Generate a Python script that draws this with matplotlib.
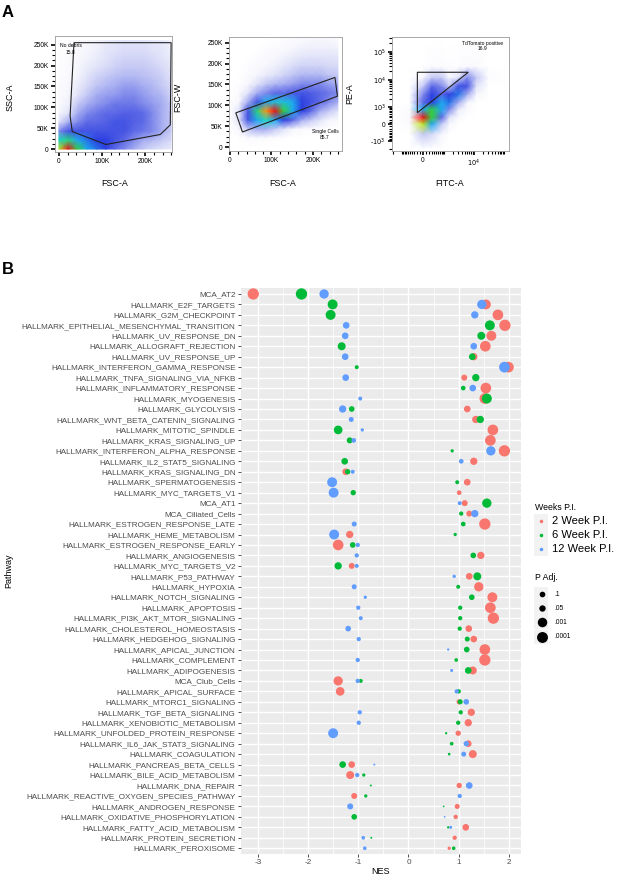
import numpy as np
import matplotlib
matplotlib.use("Agg")
import matplotlib.pyplot as plt
from matplotlib.colors import LinearSegmentedColormap
from matplotlib.patches import Polygon, Rectangle

plt.rcParams['font.family'] = ['Liberation Sans', 'DejaVu Sans']

# ---------------- Panel B data ----------------
pathways = [
    "MCA_AT2", "HALLMARK_E2F_TARGETS", "HALLMARK_G2M_CHECKPOINT",
    "HALLMARK_EPITHELIAL_MESENCHYMAL_TRANSITION", "HALLMARK_UV_RESPONSE_DN",
    "HALLMARK_ALLOGRAFT_REJECTION", "HALLMARK_UV_RESPONSE_UP",
    "HALLMARK_INTERFERON_GAMMA_RESPONSE", "HALLMARK_TNFA_SIGNALING_VIA_NFKB",
    "HALLMARK_INFLAMMATORY_RESPONSE", "HALLMARK_MYOGENESIS", "HALLMARK_GLYCOLYSIS",
    "HALLMARK_WNT_BETA_CATENIN_SIGNALING", "HALLMARK_MITOTIC_SPINDLE",
    "HALLMARK_KRAS_SIGNALING_UP", "HALLMARK_INTERFERON_ALPHA_RESPONSE",
    "HALLMARK_IL2_STAT5_SIGNALING", "HALLMARK_KRAS_SIGNALING_DN",
    "HALLMARK_SPERMATOGENESIS", "HALLMARK_MYC_TARGETS_V1", "MCA_AT1",
    "MCA_Ciliated_Cells", "HALLMARK_ESTROGEN_RESPONSE_LATE",
    "HALLMARK_HEME_METABOLISM", "HALLMARK_ESTROGEN_RESPONSE_EARLY",
    "HALLMARK_ANGIOGENESIS", "HALLMARK_MYC_TARGETS_V2", "HALLMARK_P53_PATHWAY",
    "HALLMARK_HYPOXIA", "HALLMARK_NOTCH_SIGNALING", "HALLMARK_APOPTOSIS",
    "HALLMARK_PI3K_AKT_MTOR_SIGNALING", "HALLMARK_CHOLESTEROL_HOMEOSTASIS",
    "HALLMARK_HEDGEHOG_SIGNALING", "HALLMARK_APICAL_JUNCTION",
    "HALLMARK_COMPLEMENT", "HALLMARK_ADIPOGENESIS", "MCA_Club_Cells",
    "HALLMARK_APICAL_SURFACE", "HALLMARK_MTORC1_SIGNALING",
    "HALLMARK_TGF_BETA_SIGNALING", "HALLMARK_XENOBIOTIC_METABOLISM",
    "HALLMARK_UNFOLDED_PROTEIN_RESPONSE", "HALLMARK_IL6_JAK_STAT3_SIGNALING",
    "HALLMARK_COAGULATION", "HALLMARK_PANCREAS_BETA_CELLS",
    "HALLMARK_BILE_ACID_METABOLISM", "HALLMARK_DNA_REPAIR",
    "HALLMARK_REACTIVE_OXYGEN_SPECIES_PATHWAY", "HALLMARK_ANDROGEN_RESPONSE",
    "HALLMARK_OXIDATIVE_PHOSPHORYLATION", "HALLMARK_FATTY_ACID_METABOLISM",
    "HALLMARK_PROTEIN_SECRETION", "HALLMARK_PEROXISOME",
]

nes_2wk = [-3.09, 1.54, 1.78, 1.92, 1.65, 1.53, 1.30, 1.99, 1.11, 1.54,
           1.52, 1.17, 1.34, 1.68, 1.63, 1.91, 1.30, -1.25, 1.17, 1.01,
           1.12, 1.21, 1.52, -1.17, -1.40, 1.44, -1.13, 1.21, 1.40, 1.67,
           1.63, 1.69, 1.20, 1.30, 1.52, 1.52, 1.28, -1.40, -1.36, 1.01,
           1.25, 1.19, 0.99, 1.19, 1.28, -1.13, -1.16, 1.01, -1.08, 0.97,
           0.94, 1.14, 0.92, 0.81]
padj_2wk = [5e-5, 5e-4, 1.5e-4, 5e-5, 5e-4, 1.5e-4, 0.018, 1.5e-4, 0.073, 1.5e-4,
            1.5e-4, 0.037, 0.018, 1.5e-4, 1.5e-4, 5e-5, 0.018, 0.037, 0.037, 0.22,
            0.073, 0.073, 5e-5, 0.018, 1.5e-4, 0.018, 0.073, 0.037, 1.3e-3, 5e-4,
            1.5e-4, 5e-5, 0.037, 0.037, 1.5e-4, 5e-5, 0.008, 1.3e-3, 0.0033, 0.13,
            0.018, 0.018, 0.13, 0.037, 0.008, 0.037, 0.008, 0.13, 0.073, 0.17,
            0.29, 0.037, 0.29, 0.53]

nes_6wk = [-2.13, -1.51, -1.55, 1.62, 1.45, -1.33, 1.27, -1.03, 1.34, 1.09,
           1.56, -1.13, 1.43, -1.40, -1.17, 0.87, -1.27, -1.21, 0.97, -1.10,
           1.56, 1.05, 1.09, 0.93, -1.11, 1.29, -1.40, 1.37, 0.99, 1.26,
           1.03, 1.03, 1.02, 1.17, 1.16, 0.95, 1.19, -0.95, 1.00, 1.03,
           1.04, 0.99, 0.75, 0.86, 0.81, -1.31, -0.89, -0.75, -0.85, 0.70,
           -1.08, 0.79, -0.74, 0.90]
padj_6wk = [5e-5, 5e-4, 5e-4, 5e-4, 0.008, 0.008, 0.037, 0.36, 0.018, 0.22,
            5e-4, 0.10, 0.018, 0.0033, 0.073, 0.53, 0.037, 0.13, 0.36, 0.13,
            1.3e-3, 0.29, 0.22, 0.53, 0.10, 0.10, 0.018, 0.008, 0.36, 0.10,
            0.29, 0.29, 0.29, 0.17, 0.10, 0.44, 0.037, 0.36, 0.29, 0.17,
            0.29, 0.29, 0.83, 0.44, 0.72, 0.037, 0.53, 0.93, 0.53, 1.0,
            0.10, 0.83, 0.93, 0.44]

nes_12wk = [-1.68, 1.46, 1.32, -1.24, -1.26, 1.30, -1.26, 1.91, -1.25, 1.28,
            -0.96, -1.31, -1.14, -0.92, -1.09, 1.64, 1.05, -1.11, -1.52, -1.49,
            1.02, 1.32, -1.08, -1.48, -1.01, -1.03, -1.03, 0.91, -1.08, -0.86,
            -1.00, -0.95, -1.20, -0.99, 0.79, -1.01, 0.86, -1.01, 0.96, 1.15,
            -0.97, -0.99, -1.50, 1.15, 1.10, -0.68, -1.02, 1.21, 1.02, -1.16,
            0.72, 0.84, -0.90, -0.87]
padj_12wk = [1.3e-3, 1.3e-3, 0.018, 0.037, 0.037, 0.037, 0.037, 1.5e-4, 0.037, 0.037,
             0.36, 0.018, 0.17, 0.53, 0.22, 1.3e-3, 0.22, 0.36, 5e-4, 5e-4,
             0.36, 0.018, 0.17, 5e-4, 0.29, 0.29, 0.36, 0.53, 0.17, 0.53,
             0.29, 0.36, 0.10, 0.29, 0.83, 0.29, 0.62, 0.29, 0.29, 0.10,
             0.29, 0.29, 5e-4, 0.13, 0.17, 0.93, 0.29, 0.037, 0.29, 0.073,
             1.0, 0.62, 0.44, 0.44]

week_labels = ["2 Week P.I.", "6 Week P.I.", "12 Week P.I."]
week_colors = ["#F8766D", "#00BA38", "#619CFF"]
padj_breaks = [0.1, 0.05, 0.001, 0.0001]
padj_break_labels = [".1", ".05", ".001", ".0001"]
nes_ticks = [-3, -2, -1, 0, 1, 2]

# ---------------- Panel A data (densities, 0-10) ----------------
flow1_x = np.linspace(0, 260e3, 13)
flow1_y = np.linspace(0, 260e3, 13)
flow1_density = [
    [8, 10, 7, 5, 4.5, 4, 3, 2.5, 2, 1.5, 1.2, 1, 0.8],
    [6, 6.5, 5, 4.5, 4, 4, 3.5, 3, 2.5, 2, 1.8, 1.5, 1.2],
    [2.5, 3.5, 3.5, 3.5, 3.5, 3.5, 3.5, 3.5, 3, 2.8, 2.5, 2, 1.5],
    [1, 2, 2.5, 3, 3, 3.2, 3.5, 3.5, 3.2, 3, 2.5, 2, 1.5],
    [0.5, 1, 2, 2.5, 2.8, 3, 3, 3.2, 3.2, 3, 2.5, 2, 1.5],
    [0.3, 0.7, 1.5, 2, 2.3, 2.5, 2.8, 2.8, 2.8, 2.5, 2.3, 2, 1.5],
    [0.2, 0.5, 1, 1.5, 2, 2.2, 2.3, 2.5, 2.5, 2.3, 2, 1.8, 1.3],
    [0.2, 0.4, 0.8, 1.2, 1.6, 1.8, 2, 2.2, 2.2, 2, 1.8, 1.5, 1.2],
    [0.1, 0.3, 0.6, 1, 1.3, 1.5, 1.7, 1.8, 1.8, 1.7, 1.6, 1.4, 1],
    [0.1, 0.2, 0.5, 0.8, 1, 1.2, 1.4, 1.5, 1.5, 1.5, 1.4, 1.2, 0.9],
    [0.1, 0.2, 0.4, 0.6, 0.8, 1, 1.2, 1.3, 1.3, 1.3, 1.2, 1, 0.8],
    [0.1, 0.1, 0.3, 0.5, 0.7, 0.9, 1, 1.1, 1.1, 1.1, 1, 0.9, 0.7],
    [0.1, 0.1, 0.2, 0.4, 0.6, 0.8, 0.9, 1, 1, 1, 0.9, 0.8, 0.6],
]
gate1_x = [35e3, 26e3, 31e3, 109e3, 235e3, 258e3, 260e3]
gate1_y = [255e3, 79e3, 42e3, 11e3, 35e3, 58e3, 255e3]

flow2_x = np.linspace(0, 260e3, 13)
flow2_y = np.linspace(0, 260e3, 13)
flow2_density = [
    [0] * 13,
    [0, 0, 0.3, 0.3, 0.2, 0.1, 0, 0, 0, 0, 0, 0, 0],
    [0, 0.5, 1.5, 2, 2, 1.5, 1, 0.5, 0.3, 0.2, 0.1, 0, 0],
    [0, 1, 3.5, 5, 6, 5, 4, 3, 2, 1.5, 1, 0.5, 0.3],
    [0, 1, 3.5, 6.5, 9, 10, 7, 5, 4, 3, 2, 1.5, 1],
    [0, 0.5, 2, 3.5, 5, 5.5, 5.5, 5, 4, 3.5, 3, 2.5, 2],
    [0, 0.2, 1, 2, 2.5, 3, 3, 3.3, 3.5, 3.3, 3, 2.8, 2.5],
    [0, 0.1, 0.4, 1, 1.5, 1.8, 2, 2.2, 2.5, 2.5, 2.5, 2.2, 2],
    [0, 0, 0.2, 0.5, 0.8, 1, 1.3, 1.6, 1.8, 1.8, 1.8, 1.6, 1.5],
    [0, 0, 0.1, 0.3, 0.5, 0.7, 0.9, 1.1, 1.3, 1.3, 1.3, 1.2, 1.2],
    [0, 0, 0, 0.1, 0.3, 0.4, 0.6, 0.8, 0.9, 1, 1, 1, 0.9],
    [0, 0, 0, 0, 0.1, 0.2, 0.3, 0.5, 0.6, 0.7, 0.7, 0.7, 0.6],
    [0, 0, 0, 0, 0, 0.1, 0.1, 0.2, 0.3, 0.4, 0.4, 0.4, 0.3],
]
gate2_x = [14e3, 30e3, 259e3, 253e3]
gate2_y = [82e3, 36e3, 122e3, 167e3]

flow3_x = [-2000, -500, 0, 300, 800, 1500, 3000, 6000, 12000, 30000, 140000]
flow3_y = [-2000, -500, 0, 300, 800, 1500, 3000, 6000, 12000, 30000, 300000]
flow3_density = [
    [0] * 11,
    [0, 0, 1.5, 1.2, 0.4, 0, 0, 0, 0, 0, 0],
    [0, 0.3, 8, 5, 1.5, 0.5, 0, 0, 0, 0, 0],
    [0, 0.3, 10, 7, 3, 1, 0.3, 0, 0, 0, 0],
    [0, 0.2, 5, 7, 5, 2.5, 0.8, 0.2, 0, 0, 0],
    [0, 0, 3, 4, 5, 4.5, 2, 0.5, 0, 0, 0],
    [0, 0, 2.5, 4, 3, 4, 4.5, 2, 0.5, 0, 0],
    [0, 0, 1.5, 3, 2.5, 1.5, 3.5, 3.5, 1, 0, 0],
    [0, 0, 0.5, 1.5, 1.5, 0.5, 1, 2.5, 1.5, 0.2, 0],
    [0, 0, 0, 0.2, 0.2, 0.1, 0.1, 0.3, 0.3, 0, 0],
    [0] * 11,
]
gate3_x = [-187, 6480, -187]
gate3_y = [18400, 18400, 567]

# ---------------- figure ----------------
W, H = 617, 881
fig = plt.figure(figsize=(W / 100, H / 100), dpi=100)


def fax(x0, y0, x1, y1):
    return fig.add_axes([x0 / W, 1 - y1 / H, (x1 - x0) / W, (y1 - y0) / H])


def ftext(x, y, s, **kw):
    fig.text(x / W, 1 - y / H, s, **kw)


flow_cmap = LinearSegmentedColormap.from_list('flow', [
    (0.0, '#ffffff'), (0.06, '#f3f3fc'), (0.12, '#d6d9f7'), (0.2, '#a6adf1'),
    (0.3, '#5c68e6'), (0.4, '#2c3fe0'), (0.5, '#1fa8f0'), (0.6, '#20d8c0'),
    (0.7, '#30d040'), (0.82, '#d8e820'), (0.91, '#ff9010'), (1.0, '#f01010')])


def style_flow(ax):
    for s in ax.spines.values():
        s.set_color('#9a9a9a')
        s.set_linewidth(0.6)
    ax.tick_params(which='major', direction='out', length=3, width=1.2,
                   color='black', labelsize=4.8, pad=1.5)
    ax.tick_params(which='minor', direction='out', length=2, width=0.8,
                   color='black')
    ax.tick_params(top=False, right=False, which='both')


def klab(v):
    return '0' if v == 0 else f'{int(v / 1000)}K'


# Plot 1
ax1 = fax(55, 36, 172, 152)
X, Y = np.meshgrid(flow1_x, flow1_y)
ax1.pcolormesh(X, Y, np.array(flow1_density) / 10, shading='gouraud',
               cmap=flow_cmap, vmin=0, vmax=1, rasterized=True)
ax1.add_patch(Polygon(np.column_stack([gate1_x, gate1_y]), closed=True,
                      fill=False, edgecolor='#222222', lw=0.8))
ax1.text(27e3, 248e3, 'No debris', fontsize=3.6, ha='center', va='center')
ax1.text(27e3, 232e3, '15.8', fontsize=3.6, ha='center', va='center')
ax1.set_xlim(-9e3, 262e3)
ax1.set_ylim(-7e3, 271e3)
ax1.set_xticks([0, 100e3, 200e3], [klab(v) for v in [0, 100e3, 200e3]])
ax1.set_yticks(np.arange(0, 251e3, 50e3), [klab(v) for v in np.arange(0, 251e3, 50e3)])
ax1.set_xticks(np.arange(0, 261e3, 20e3), minor=True)
ax1.set_yticks(np.arange(0, 261e3, 12.5e3), minor=True)
style_flow(ax1)

# Plot 2
ax2 = fax(229, 37, 342, 151)
X, Y = np.meshgrid(flow2_x, flow2_y)
ax2.pcolormesh(X, Y, np.array(flow2_density) / 10, shading='gouraud',
               cmap=flow_cmap, vmin=0, vmax=1, rasterized=True)
ax2.add_patch(Polygon(np.column_stack([gate2_x, gate2_y]), closed=True,
                      fill=False, edgecolor='#222222', lw=0.8))
ax2.text(229e3, 36e3, 'Single Cells', fontsize=3.6, ha='center', va='center')
ax2.text(229e3, 22e3, '85.7', fontsize=3.6, ha='center', va='center')
ax2.set_xlim(-2.4e3, 270e3)
ax2.set_ylim(-9.6e3, 264e3)
ax2.set_xticks([0, 100e3, 200e3], [klab(v) for v in [0, 100e3, 200e3]])
ax2.set_yticks(np.arange(0, 251e3, 50e3), [klab(v) for v in np.arange(0, 251e3, 50e3)])
ax2.set_xticks(np.arange(0, 261e3, 20e3), minor=True)
ax2.set_yticks(np.arange(0, 261e3, 12.5e3), minor=True)
style_flow(ax2)

# Plot 3
ax3 = fax(392, 37, 509, 151)
ax3.set_xscale('asinh', linear_width=420)
ax3.set_yscale('asinh', linear_width=530)
X, Y = np.meshgrid(flow3_x, flow3_y)
ax3.pcolormesh(X, Y, np.array(flow3_density) / 10, shading='gouraud',
               cmap=flow_cmap, vmin=0, vmax=1, rasterized=True)
ax3.add_patch(Polygon(np.column_stack([gate3_x, gate3_y]), closed=True,
                      fill=False, edgecolor='#222222', lw=0.8))
ax3.text(18.7e3, 197e3, 'TdTomato positive', fontsize=3.6, ha='center', va='center')
ax3.text(18.7e3, 124e3, '16.9', fontsize=3.6, ha='center', va='center')
ax3.set_xlim(-2190, 142e3)
ax3.set_ylim(-2390, 331e3)
ax3.set_xticks([0, 1e4], ['0', '$10^{4}$'])
ax3.set_yticks([-1e3, 0, 1e3, 1e4, 1e5],
               ['-$10^{3}$', '0', '$10^{3}$', '$10^{4}$', '$10^{5}$'])
minor = []
for dec in [100, 1000, 10000, 100000]:
    for m in range(1, 10):
        minor += [m * dec, -m * dec]
ax3.set_xticks([v for v in minor if -2190 < v < 142e3], minor=True)
ax3.set_yticks([v for v in minor if -2390 < v < 331e3], minor=True)
ax3.xaxis.set_minor_formatter(plt.NullFormatter())
ax3.yaxis.set_minor_formatter(plt.NullFormatter())
style_flow(ax3)

# axis labels panel A
lab_kw = dict(fontsize=6.4, ha='center', va='center')
ftext(10, 97, 'SSC-A', rotation=90, **lab_kw)
ftext(115, 183, 'FSC-A', **lab_kw)
ftext(178, 97, 'FSC-W', rotation=90, **lab_kw)
ftext(283, 183, 'FSC-A', **lab_kw)
ftext(350, 94, 'PE-A', rotation=90, **lab_kw)
ftext(450, 183, 'FITC-A', **lab_kw)

ftext(2, 12.5, 'A', fontsize=12, fontweight='bold', ha='left', va='center')
ftext(2, 269, 'B', fontsize=12, fontweight='bold', ha='left', va='center')

# ---------------- Panel B ----------------


def padj_size(p):
    L = -np.log10(np.asarray(p, dtype=float))
    area_px = 3 + 29 * L
    return area_px * 0.72 ** 2


axB = fax(240.7, 288, 521, 854)
axB.set_facecolor('#EBEBEB')
ypos = np.arange(len(pathways))
for nes, padj, col in [(nes_2wk, padj_2wk, week_colors[0]),
                       (nes_6wk, padj_6wk, week_colors[1]),
                       (nes_12wk, padj_12wk, week_colors[2])]:
    axB.scatter(nes, ypos, s=padj_size(padj), color=col, linewidths=0, zorder=3)
axB.set_xlim(-3.34, 2.24)
axB.set_ylim(len(pathways) - 1 + 0.55, -0.57)
axB.set_yticks(ypos, pathways)
axB.set_xticks(nes_ticks, [str(t) for t in nes_ticks])
axB.set_xticks(np.arange(-2.5, 2.2, 1.0), minor=True)
axB.set_axisbelow(True)
axB.grid(which='major', color='white', lw=1.0)
axB.grid(which='minor', axis='x', color='white', lw=0.5)
axB.tick_params(which='minor', length=0)
axB.tick_params(which='major', length=2.5, width=0.6, color='#333333',
                labelsize=5.9, labelcolor='#4D4D4D', pad=1.2)
for s in axB.spines.values():
    s.set_visible(False)
ftext(380.8, 871, 'NES', fontsize=6.5, ha='center', va='center')
ftext(9, 571, 'Pathway', fontsize=6.5, rotation=90, ha='center', va='center')

# ---------------- Legends ----------------
axL = fax(520, 490, 617, 660)
axL.set_xlim(520, 617)
axL.set_ylim(660, 490)
axL.axis('off')
axL.text(535, 507, 'Weeks P.I.', fontsize=6.3, ha='left', va='center')
for i, (lab, col) in enumerate(zip(week_labels, week_colors)):
    y = 521 + 14 * i
    axL.add_patch(Rectangle((534, y - 7), 14, 14, facecolor='#F2F2F2',
                            edgecolor='none'))
    axL.scatter([541], [y], s=6.5, color=col, linewidths=0)
    axL.text(552, y, lab, fontsize=8, ha='left', va='center')
axL.text(535, 577, 'P Adj.', fontsize=6.3, ha='left', va='center')
for i, (p, lab) in enumerate(zip(padj_breaks, padj_break_labels)):
    y = [594, 608, 622, 637][i]
    axL.add_patch(Rectangle((534, y - 7), 14, 14, facecolor='#F2F2F2',
                            edgecolor='none'))
    axL.scatter([541.5], [y], s=padj_size([p]), color='black', linewidths=0)
    axL.text(554, y, lab, fontsize=4.8, ha='left', va='center')

fig.savefig('out.png', dpi=100)
